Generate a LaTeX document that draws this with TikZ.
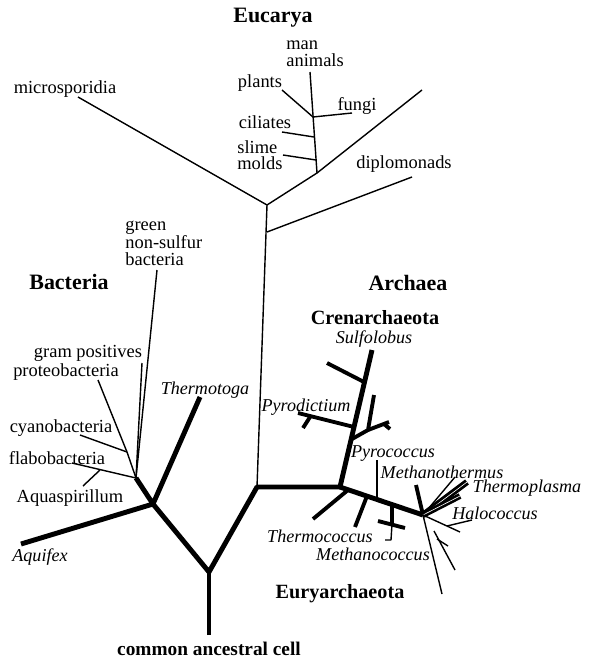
\documentclass[tikz,border=0pt]{standalone}
\usepackage{fontspec}
\setmainfont{Liberation Serif}
\usepackage{tikz}
\usetikzlibrary{positioning}
\definecolor{treeink}{RGB}{0,0,0}

\begin{document}
\begin{tikzpicture}[
      x=0.02cm, y=-0.02cm,
      trunk/.style={draw=treeink, line width=2.8pt, line join=round},
      limb/.style={draw=treeink, line width=2.2pt, line join=round},
      twig/.style={draw=treeink, line width=0.8pt, line join=round},
      lbl/.style={font=\fontsize{10.5}{9.4}\selectfont, inner sep=0pt, align=left},
      ital/.style={font=\fontsize{10.3}{10}\selectfont\itshape, inner sep=0pt},
      grp/.style={font=\fontsize{12.5}{14}\selectfont\bfseries, inner sep=0pt},
      subgrp/.style={font=\fontsize{11.5}{13}\selectfont\bfseries, inner sep=0pt},
    ]
    \useasboundingbox (0,0) rectangle (589,659);

    % tree junctions and tips
    \coordinate (root) at (209,635);  \coordinate (lca) at (209,572);
    \coordinate (bac) at (153,504);   \coordinate (bacfan) at (136,478);
    \coordinate (protjn) at (127,452); \coordinate (aquifex) at (21,544);
    \coordinate (thtoga) at (200,397); \coordinate (greentip) at (157,270);
    \coordinate (gramtip) at (142,363); \coordinate (prottip) at (98,380);
    \coordinate (cyantip) at (80,435); \coordinate (flabtip) at (72,463);
    \coordinate (aqsjn) at (100,470); \coordinate (aqstip) at (83,486);
    \coordinate (arcjn) at (257,487); \coordinate (euk) at (267,205);
    \coordinate (dipjn) at (267,232); \coordinate (diptip) at (412,177);
    \coordinate (microtip) at (78,97); \coordinate (crownjn) at (317,173);
    \coordinate (euktop) at (422,90); \coordinate (animtip) at (310,72);
    \coordinate (plantjn) at (313,117); \coordinate (planttip) at (282,90);
    \coordinate (fungitip) at (352,113); \coordinate (ciljn) at (314,137);
    \coordinate (ciltip) at (282,132); \coordinate (slimejn) at (316,160);
    \coordinate (slimetip) at (283,155);
    \coordinate (arch) at (340,487);  \coordinate (sulfo) at (372,350);
    \coordinate (crenA) at (364,382); \coordinate (crenAtip) at (327,363);
    \coordinate (pydjn) at (354,427); \coordinate (pydtip) at (298,413);
    \coordinate (pydsp) at (310,417); \coordinate (pydsptip) at (303,428);
    \coordinate (forkjn) at (352,439); \coordinate (fork) at (368,430);
    \coordinate (forkup) at (374,395); \coordinate (forkrt) at (389,422);
    \coordinate (forksp) at (384,424); \coordinate (forksptip) at (390,429);
    \coordinate (clu) at (423,515);
    \coordinate (tcocA) at (348,490); \coordinate (tcocAtip) at (313,519);
    \coordinate (tcocB) at (367,496); \coordinate (tcocBtip) at (355,527);
    \coordinate (mcocjn) at (392,505); \coordinate (mcocbar) at (392,524);
    \coordinate (mcocL) at (378,521); \coordinate (mcocR) at (405,528);
    \coordinate (mcoctip) at (391,540); \coordinate (mcoctick) at (385,540);
    \coordinate (pyctop) at (377,460); \coordinate (pycjn) at (377,499);
    \coordinate (clustub) at (416,485); \coordinate (mthtip) at (455,477);
    \coordinate (tplasma) at (467,482); \coordinate (halbar) at (460,496);
    \coordinate (haltip) at (460,532); \coordinate (halsp) at (447,526);
    \coordinate (halsptip) at (472,520); \coordinate (lowA) at (442,594);
    \coordinate (lowBjn) at (434,531); \coordinate (lowB) at (455,570);
    \coordinate (lowsp) at (437,539); \coordinate (lowsptip) at (448,546);

    % labels
    \node[grp] (eucarya) at (273,18) {Eucarya};
    \node[grp] (bacteria) at (69,282) {Bacteria};
    \node[grp] (archaea) at (408,283) {Archaea};
    \node[subgrp] (cren) at (375,318) {Crenarchaeota};
    \node[subgrp] (eury) at (340,594) {Euryarchaeota};
    \node[subgrp, font=\fontsize{11}{13}\selectfont\bfseries, below=4pt of root] (cac) {common ancestral cell};

    \node[lbl] (micro) at (65,89) {microsporidia};
    \node[lbl, anchor=west] (animals) at (286,54) {man\\animals};
    \node[lbl] (plants) at (260,83) {plants};
    \node[lbl] (fungi) at (357,106) {fungi};
    \node[lbl] (ciliates) at (265,122) {ciliates};
    \node[lbl, anchor=west] (slime) at (237,155) {slime\\molds};
    \node[lbl] (diplo) at (404,164) {diplomonads};
    \node[lbl, anchor=west] (green) at (125,243) {green\\non-sulfur\\bacteria};
    \node[lbl] (gram) at (88,353) {gram positives};
    \node[lbl] (proteo) at (66,372) {proteobacteria};
    \node[lbl] (cyano) at (61,428) {cyanobacteria};
    \node[lbl] (flabo) at (57,458) {flabobacteria};
    \node[lbl] (aquasp) at (70,498) {Aquaspirillum};
    \node[ital] (aquifexlbl) at (40,557) {Aquifex};
    \node[ital] (thtogalbl) at (205,390) {Thermotoga};
    \node[ital] (sulfolbl) at (374,339) {Sulfolobus};
    \node[ital] (pyrodlbl) at (306,407) {Pyrodictium};
    \node[ital] (pyrolbl) at (393,454) {Pyrococcus};
    \node[ital] (mthlbl) at (442,472) {Methanothermus};
    \node[ital] (tplasmalbl) at (527,488) {Thermoplasma};
    \node[ital] (halolbl) at (495,513) {Halococcus};
    \node[ital] (tcoclbl) at (320,536) {Thermococcus};
    \node[ital] (mcoclbl) at (373,554) {Methanococcus};

    % bacteria
    \draw[trunk] (root) -- (lca);
    \draw[trunk] (aquifex) -- (bac) -- (lca) -- (arcjn) -- (arch);
    \draw[trunk] (bacfan) -- (bac) -- (thtoga);
    \draw[twig] (bacfan) -- (protjn) -- (prottip); \draw[twig] (protjn) -- (cyantip);
    \draw[twig] (bacfan) -- (greentip); \draw[twig] (bacfan) -- (gramtip);
    \draw[twig] (bacfan) -- (flabtip); \draw[twig] (aqsjn) -- (aqstip);

    % eucarya
    \draw[twig] (arcjn) -- (euk) -- (microtip);
    \draw[twig] (euk) -- (crownjn) -- (euktop);
    \draw[twig] (dipjn) -- (diptip);
    \draw[twig] (crownjn) -- (animtip);
    \draw[twig] (planttip) -- (plantjn) -- (fungitip);
    \draw[twig] (ciltip) -- (ciljn); \draw[twig] (slimetip) -- (slimejn);

    % crenarchaeota
    \draw[trunk] (arch) -- (sulfo);
    \draw[limb] (crenA) -- (crenAtip); \draw[limb] (pydjn) -- (pydtip);
    \draw[limb] (pydsp) -- (pydsptip);
    \draw[limb] (forkjn) -- (fork) -- (forkup); \draw[limb] (fork) -- (forkrt);
    \draw[limb] (forksp) -- (forksptip);

    % euryarchaeota
    \draw[trunk] (arch) -- (clu);
    \draw[limb] (tcocA) -- (tcocAtip); \draw[limb] (tcocB) -- (tcocBtip);
    \draw[limb] (mcocjn) -- (mcocbar); \draw[limb] (mcocL) -- (mcocR);
    \draw[twig] (mcocbar) -- (mcoctip) -- (mcoctick);
    \draw[twig] (pyctop) -- (pycjn);
    \draw[limb] (clu) -- (clustub);
    \draw[twig] (clu) -- (mthtip);
    \draw[line width=1.6pt, double=white, double distance=0.35pt] (clu) -- (tplasma);
    \draw[line width=1.5pt, double=white, double distance=0.35pt] (clu) -- (halbar);
    \draw[twig] (clu) -- (haltip); \draw[twig] (halsp) -- (halsptip);
    \draw[twig] (clu) -- (lowA); \draw[twig] (lowBjn) -- (lowB);
    \draw[twig] (lowsp) -- (lowsptip);
  \end{tikzpicture}
\end{document}
